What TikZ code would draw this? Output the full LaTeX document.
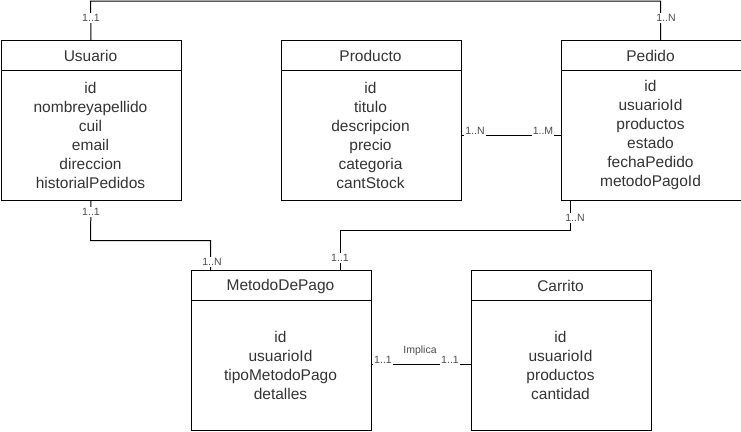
\documentclass[tikz,border=0pt]{standalone}
\usepackage{fontspec}
\setmainfont{Liberation Sans}
\begin{document}
\begin{tikzpicture}[x=1pt,y=-1pt,
  entity/.style={draw=black, line width=1pt, minimum width=180pt, minimum height=160pt, inner sep=0pt, anchor=north west},
  title/.style={text=black!80, font=\fontsize{15.5}{18.6}\selectfont, inner sep=0pt},
  attrs/.style={text=black!80, font=\fontsize{15.5}{19}\selectfont, align=center, inner sep=0pt},
  card/.style={text=black!70, font=\fontsize{10.5}{12}\selectfont, fill=white, inner sep=1pt},
  conn/.style={draw=black, line width=1pt}]
\useasboundingbox (0,0) rectangle (741,431);

% boxes
\node[entity] (usuario) at (0.5,40) {};
\node[entity] (producto) at (280.5,40) {};
\node[entity] (pedido) at (560.5,40) {};
\node[entity] (metodo) at (190.5,270) {};
\node[entity] (carrito) at (470.5,270) {};

% header dividers
\foreach \b in {usuario,producto,pedido,metodo,carrito}{
  \draw[conn] ([yshift=-30pt]\b.north west) -- ([yshift=-30pt]\b.north east);
}

% titles
\node[title] (tU) at (90.5,56) {Usuario};
\node[title] (tPr) at (370.5,56) {Producto};
\node[title] (tPe) at (650.5,56) {Pedido};
\node[title] (tM) at (280.5,286) {MetodoDePago};
\node[title] (tC) at (560.5,286) {Carrito};

% attributes
\node[attrs] (aU) at (90.5,135) {id\\nombreyapellido\\cuil\\email\\direccion\\historialPedidos};
\node[attrs] (aPr) at (370.5,135) {id\\titulo\\descripcion\\precio\\categoria\\cantStock};
\node[attrs] (aPe) at (650.5,135) {id\\usuarioId\\productos\\estado\\fechaPedido\\metodoPagoId};
\node[attrs] (aM) at (280.5,365) {id\\usuarioId\\tipoMetodoPago\\detalles};
\node[attrs] (aC) at (560.5,365) {id\\usuarioId\\productos\\cantidad};

% connectors
\coordinate (topL) at (90.5,1);
\coordinate (topR) at (660.5,1);
\draw[conn] (usuario.north) -- (topL) -- (topR) -- (topR |- pedido.north);
\node[card] (l1) at (91,18) {1..1};
\node[card] (l2) at (666,18) {1..N};

\draw[conn] ([yshift=-15pt]producto.east) -- ([yshift=-15pt]pedido.west);
\node[card] (l3) at (475,131) {1..N};
\node[card] (l4) at (543,131) {1..M};

\coordinate (bl) at (90.5,240.5);
\coordinate (blr) at (210.5,240.5);
\draw[conn] (usuario.south) -- (bl) -- (blr) -- (blr |- metodo.north);
\node[card] (l5) at (91,212) {1..1};
\node[card] (l6) at (212,262) {1..N};

\coordinate (br) at (570.5,230.5);
\coordinate (brl) at (340.5,230.5);
\draw[conn] (br |- pedido.south) -- (br) -- (brl) -- (brl |- metodo.north);
\node[card] (l7) at (575,218) {1..N};
\node[card] (l8) at (340,258) {1..1};

\draw[conn] ([yshift=-14pt]metodo.east) -- ([yshift=-14pt]carrito.west);
\node[card] (l9) at (383,360) {1..1};
\node[card] (l10) at (450,360) {1..1};
\node[card] (l11) at (420,351) {Implica};
\end{tikzpicture}
\end{document}
